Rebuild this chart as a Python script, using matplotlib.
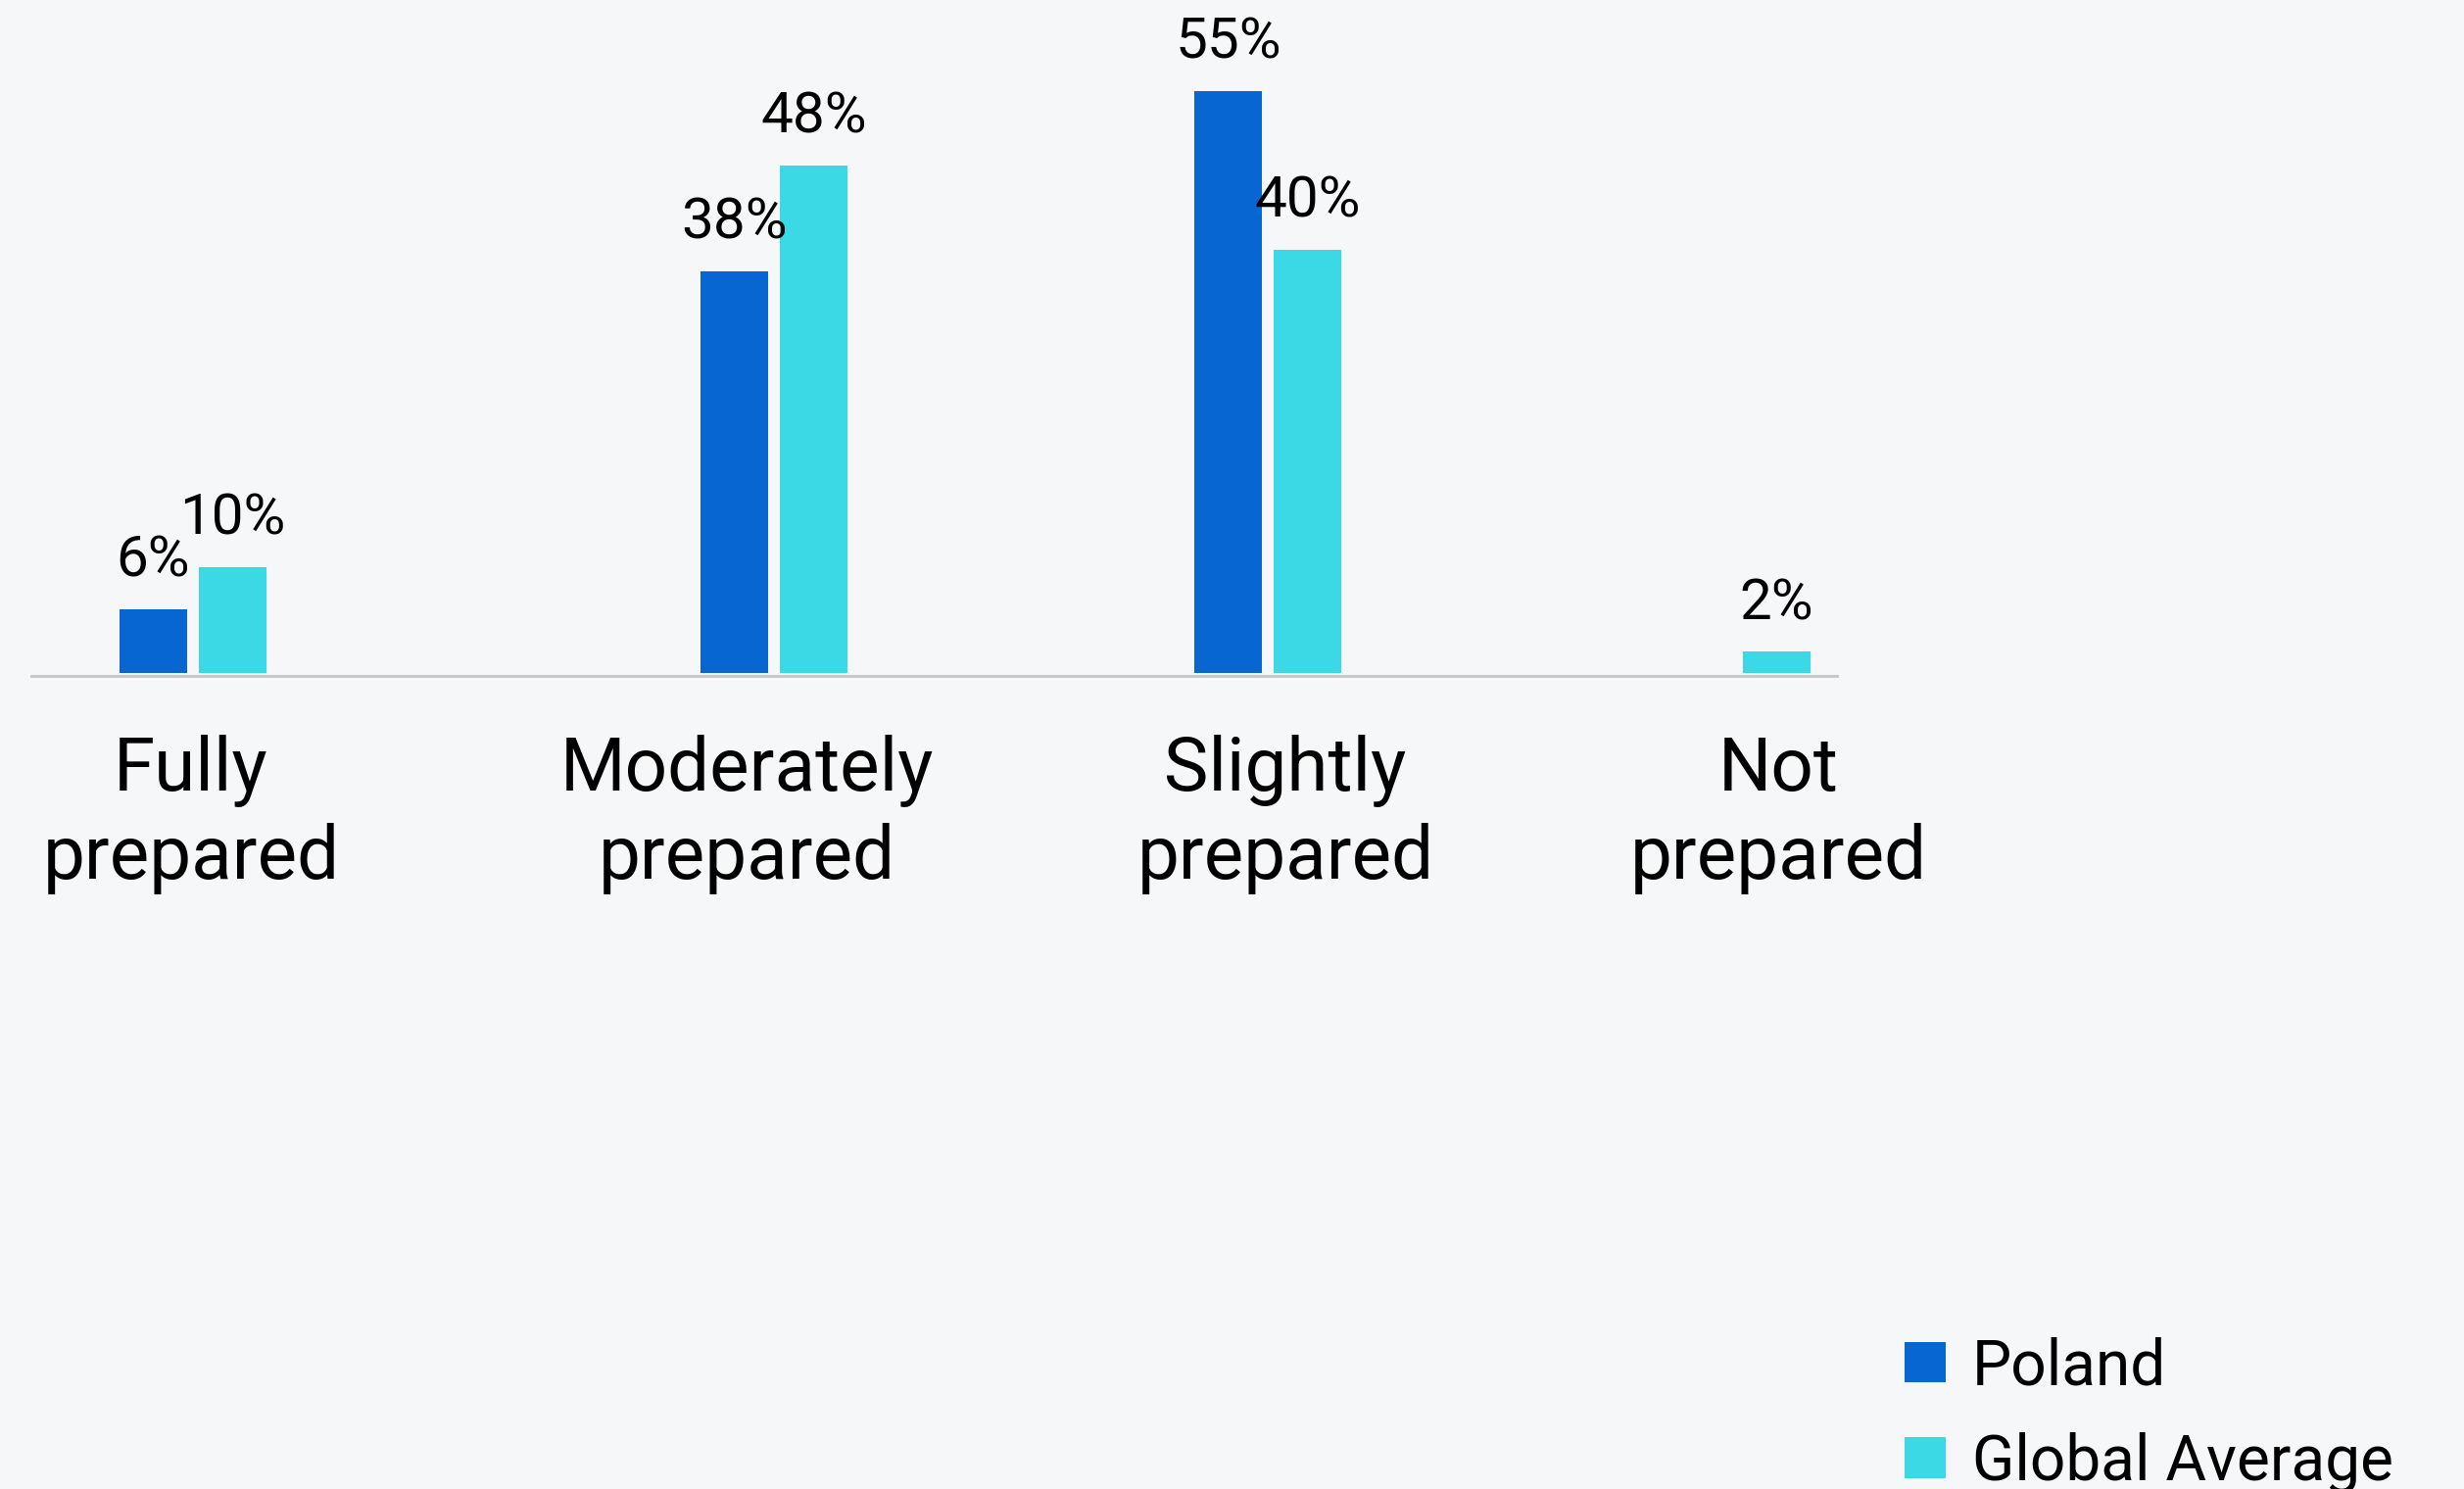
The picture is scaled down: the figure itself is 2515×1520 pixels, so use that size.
import numpy as np
import matplotlib.pyplot as plt
from matplotlib.patches import Patch
from matplotlib.transforms import blended_transform_factory

# data
categories = ["Fully\nprepared", "Moderately\nprepared", "Slightly\nprepared", "Not\nprepared"]
poland = [6, 38, 55, 0]
global_avg = [10, 48, 40, 2]
series_names = ["Poland", "Global Average"]

# layout (pixels of the 2515x1520 canvas)
group_x = [197, 790, 1294, 1773]
label_x = [195, 762, 1312, 1815]
bar_w = 69
offset = 40.5
px_per_pct = 10.8

BG = "#f6f7f9"
C_POL = "#0866d3"
C_GLO = "#3bd9e5"

plt.rcParams['font.family'] = ['Roboto', 'DejaVu Sans']

W, H = 2515, 1520
fig = plt.figure(figsize=(W / 100, H / 100), dpi=100, facecolor=BG)

left, right, base = 32, 1875, 690
ax = fig.add_axes([left / W, (H - base) / H, (right - left) / W, base / H])
ax.set_facecolor(BG)
ax.set_xlim(left, right)
ax.set_ylim(-0.28, -0.28 + base / px_per_pct)

gx = np.array(group_x, dtype=float)
b1 = ax.bar(gx - offset, poland, width=bar_w, color=C_POL, linewidth=0)
b2 = ax.bar(gx + offset, global_avg, width=bar_w, color=C_GLO, linewidth=0)

for bars, vals in ((b1, poland), (b2, global_avg)):
    for rect, v in zip(bars, vals):
        if v == 0:
            continue
        ax.annotate(f"{v}%", (rect.get_x() + rect.get_width() / 2, v),
                    xytext=(0, 24), textcoords="offset points",
                    ha="center", va="baseline", fontsize=42, color="black")

for s in ["top", "left", "right"]:
    ax.spines[s].set_visible(False)
ax.spines["bottom"].set_color("#c4c4c6")
ax.spines["bottom"].set_linewidth(2)
ax.set_xticks([])
ax.set_yticks([])

# category labels below the baseline
tr = blended_transform_factory(ax.transData, fig.transFigure)
for x, lab in zip(label_x, categories):
    for k, line in enumerate(lab.split("\n")):
        ax.text(x, 1 - (807 + 90 * k) / H, line, transform=tr, ha="center",
                va="baseline", fontsize=55, color="black", clip_on=False)

handles = [Patch(facecolor=C_POL, edgecolor="none"), Patch(facecolor=C_GLO, edgecolor="none")]
fig.legend(handles, series_names, loc="upper left",
           bbox_to_anchor=(1944 / W, 1 - 1364 / H), frameon=False,
           fontsize=46, handlelength=0.66, handleheight=0.63,
           handletextpad=0.42, labelspacing=0.55, borderpad=0, borderaxespad=0)

fig.savefig("out.png", dpi=100, facecolor=BG)
